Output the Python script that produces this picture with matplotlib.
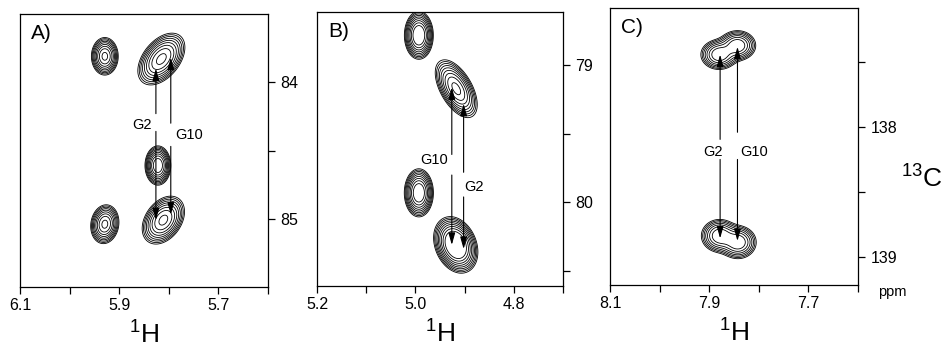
import matplotlib.pyplot as plt
import numpy as np

plt.rcParams['font.family'] = ['Liberation Sans', 'DejaVu Sans']
plt.rcParams['mathtext.fontset'] = 'custom'
plt.rcParams['mathtext.rm'] = 'Liberation Sans'

# peaks: x0 (1H ppm), y0 (13C ppm), sigma x, sigma y, correlation, amplitude
peaks_A = [
    (5.929, 83.81, 0.0114, 0.058, 0.0, 1.0),
    (5.815, 83.83, 0.0200, 0.080, 0.45, 1.0),
    (5.822, 84.61, 0.0105, 0.058, 0.0, 1.3),
    (5.929, 85.04, 0.0120, 0.060, 0.1, 1.0),
    (5.811, 85.01, 0.0180, 0.074, 0.35, 1.0),
]
peaks_B = [
    (4.993, 78.78, 0.0116, 0.069, 0.0, 1.5),
    (4.917, 79.17, 0.0180, 0.089, -0.55, 1.0),
    (4.993, 79.93, 0.0118, 0.070, 0.0, 1.4),
    (4.918, 80.31, 0.0170, 0.078, -0.25, 2.0),
]
peaks_C = [
    (7.880, 137.44, 0.0160, 0.050, 0.0, 0.85),
    (7.843, 137.37, 0.0160, 0.050, 0.0, 0.85),
    (7.879, 138.84, 0.0160, 0.055, 0.0, 0.85),
    (7.842, 138.89, 0.0160, 0.055, 0.0, 0.85),
]

# arrows: x, upper start, upper tip, lower start, lower tip
arrows_A = [(5.826, 84.23, 83.90, 84.36, 85.01), (5.796, 84.30, 83.82, 84.47, 84.97)]
arrows_B = [(4.926, 79.65, 79.16, 79.80, 80.31), (4.902, 79.78, 79.28, 79.96, 80.34)]
arrows_C = [(7.878, 138.095, 137.44, 138.25, 138.86), (7.843, 138.04, 137.38, 138.25, 138.88)]

# labels: text, x, y
labels_A = [('G2', 5.855, 84.31), ('G10', 5.760, 84.39)]
labels_B = [('G10', 4.962, 79.69), ('G2', 4.881, 79.89)]
labels_C = [('G2', 7.892, 138.195), ('G10', 7.810, 138.195)]

xlims = [(6.1, 5.6), (5.2, 4.7), (8.1, 7.6)]
ylims = [(85.5, 83.5), (80.61, 78.61), (139.22, 137.08)]
xticks = [[6.1, 6.0, 5.9, 5.8, 5.7, 5.6], [5.2, 5.1, 5.0, 4.9, 4.8, 4.7], [8.1, 8.0, 7.9, 7.8, 7.7, 7.6]]
xticklabels = [['6.1', '', '5.9', '', '5.7', ''], ['5.2', '', '5.0', '', '4.8', ''], ['8.1', '', '7.9', '', '7.7', '']]
yticks = [[84, 84.5, 85], [79, 79.5, 80, 80.5], [137.5, 138, 138.5, 139]]
yticklabels = [['84', '', '85'], ['79', '', '80', ''], ['', '138', '', '139']]
panel_names = ['A)', 'B)', 'C)']

panel_levels = [
    0.06 * 1.4 ** np.arange(9),
    0.06 * 1.4 ** np.arange(9),
    0.06 * 1.45 ** np.arange(7),
]

fig = plt.figure(figsize=(9.43, 3.48), dpi=100)
positions = [
    [20/943, 1-287/348, 248/943, 273/348],
    [317/943, 1-286/348, 246/943, 274/348],
    [610/943, 1-285/348, 248/943, 277/348],
]

all_peaks = [peaks_A, peaks_B, peaks_C]
all_arrows = [arrows_A, arrows_B, arrows_C]
all_labels = [labels_A, labels_B, labels_C]

for i in range(3):
    ax = fig.add_axes(positions[i])
    x = np.linspace(min(xlims[i]), max(xlims[i]), 500)
    y = np.linspace(min(ylims[i]), max(ylims[i]), 500)
    X, Y = np.meshgrid(x, y)
    Z = np.zeros_like(X)
    for (x0, y0, sx, sy, rho, a) in all_peaks[i]:
        u = (X - x0) / sx
        v = (Y - y0) / sy
        Z += a * np.exp(-0.5 * (u**2 - 2*rho*u*v + v**2) / (1 - rho**2))
    ax.contour(X, Y, Z, levels=panel_levels[i], colors='black', linewidths=0.6)

    for (xa, us, ut, ls, lt) in all_arrows[i]:
        for s, t in [(us, ut), (ls, lt)]:
            ax.annotate('', xy=(xa, t), xytext=(xa, s),
                        arrowprops=dict(arrowstyle='-|>,head_length=0.6,head_width=0.17',
                                        color='black', lw=0.8, shrinkA=0, shrinkB=0,
                                        mutation_scale=12))
    for (txt, xl, yl) in all_labels[i]:
        ax.text(xl, yl, txt, ha='center', va='center', fontsize=10.5)

    ax.text(0.045, 0.965, panel_names[i], transform=ax.transAxes, ha='left', va='top', fontsize=15)

    ax.set_xlim(xlims[i])
    ax.set_ylim(ylims[i])
    ax.set_xticks(xticks[i])
    ax.set_xticklabels(xticklabels[i])
    ax.yaxis.tick_right()
    ax.set_yticks(yticks[i])
    ax.set_yticklabels(yticklabels[i])
    ax.tick_params(direction='out', length=5, width=0.9, labelsize=11.5, pad=3)
    ax.tick_params(axis='y', pad=4)
    for sp in ax.spines.values():
        sp.set_linewidth(0.9)
    ax.set_xlabel(r'$^{1}$H', fontsize=19, labelpad=5)

fig.text(0.955, 0.49, r'$^{13}$C', fontsize=19, ha='left', va='center')
fig.text(0.946, 0.161, 'ppm', fontsize=10.5, ha='center', va='center')

fig.savefig('out.png', dpi=100)
